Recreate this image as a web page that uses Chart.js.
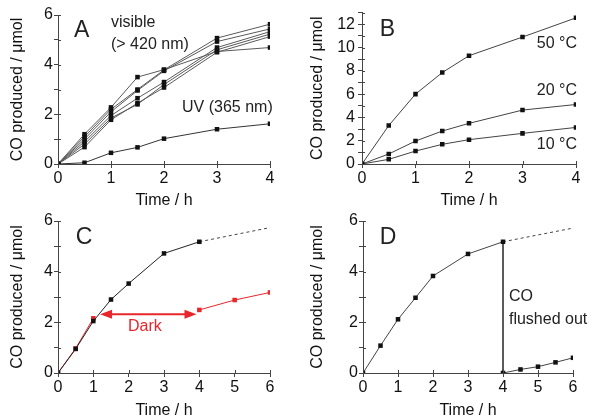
<!DOCTYPE html>
<html>
<head>
<meta charset="utf-8">
<script src="https://cdn.jsdelivr.net/npm/chart.js@4.4.0/dist/chart.umd.min.js"></script>
<style>
body { margin: 0; background: #fff; }
#wrap { width: 600px; height: 420px; display: grid; grid-template-columns: 300px 300px; grid-template-rows: 210px 210px; }
canvas { display: block; }
</style>
</head>
<body>
<div id="wrap">
	<canvas id="cA" width="300" height="210"></canvas>
	<canvas id="cB" width="300" height="210"></canvas>
	<canvas id="cC" width="300" height="210"></canvas>
	<canvas id="cD" width="300" height="210"></canvas>
</div>
<script>
// panel A : visible vs UV
const timeA = [0, 0.5, 1, 1.5, 2, 3, 4];
const visA1 = [0, 1.2, 2.28, 3.5, 3.8, 4.53, 4.69];
const visA2 = [0, 1.1, 2.2, 3.0, 3.79, 5.07, 5.63];
const visA3 = [0, 1.0, 2.1, 2.96, 3.75, 4.93, 5.44];
const visA4 = [0, 0.9, 1.95, 2.65, 3.3, 4.69, 5.33];
const visA5 = [0, 0.8, 1.85, 2.4, 3.2, 4.6, 5.23];
const visA6 = [0, 0.68, 1.78, 2.45, 3.08, 4.5, 5.13];
const uvA = [0, 0.05, 0.45, 0.67, 1.02, 1.4, 1.62];

// panel B : temperature
const timeB = [0, 0.5, 1, 1.5, 2, 3, 4];
const temp50 = [0, 3.3, 6.0, 7.85, 9.3, 10.9, 12.55];
const temp20 = [0, 0.86, 1.97, 2.83, 3.49, 4.63, 5.11];
const temp10 = [0, 0.4, 1.11, 1.69, 2.09, 2.63, 3.14];

// panel C : light / dark
const timeC = [0, 0.5, 1, 1.5, 2, 3, 4];
const lightC = [0, 0.95, 2.05, 2.9, 3.53, 4.72, 5.18];
const timeDark = [0, 0.5, 1, 2.5, 4, 5, 6];
const darkC = [0, 0.97, 2.16, null, 2.49, 2.88, 3.18];
const timeExt = [4, 6];
const extC = [5.18, 5.74];

// panel D : flushed
const timeD = [0, 0.5, 1, 1.5, 2, 3, 4, 4, 4.5, 5, 5.5, 6];
const flushD = [0, 1.08, 2.12, 2.97, 3.83, 4.7, 5.18, 0, 0.14, 0.25, 0.42, 0.6];
const extD = [5.18, 5.72];

const fam = '"Liberation Sans", Arial, sans-serif';
const red = '#e8262b';

function toXY(xs, ys) {
	return xs.map((x, i) => ({ x: x, y: ys[i] }));
}

function line(xs, ys, color, pt, opts) {
	return Object.assign({
		data: toXY(xs, ys),
		borderColor: color,
		backgroundColor: pt,
		pointBackgroundColor: pt,
		borderWidth: 1,
		pointStyle: 'rect',
		pointRadius: 3.2,
		pointBorderWidth: 0,
		tension: 0,
		spanGaps: false
	}, opts || {});
}

// inner half of the tick marks, text notes and the "Dark" arrow
const notes = {
	id: 'notes',
	afterDatasetsDraw(chart, args, o) {
		const ctx = chart.ctx;
		const xs = chart.scales.x, ys = chart.scales.y;
		ctx.save();
		ctx.strokeStyle = '#444';
		ctx.lineWidth = 1;
		ctx.beginPath();
		xs.ticks.forEach(t => {
			let px = Math.round(xs.getPixelForValue(t.value)) + 0.5;
			ctx.moveTo(px, ys.bottom);
			ctx.lineTo(px, ys.bottom - 3);
		});
		ys.ticks.forEach(t => {
			let py = Math.round(ys.getPixelForValue(t.value)) + 0.5;
			ctx.moveTo(xs.left, py);
			ctx.lineTo(xs.left + 3, py);
		});
		ctx.stroke();
		(o.items || []).forEach(it => {
			ctx.font = (it.size || 16) + 'px ' + fam;
			ctx.fillStyle = it.color || '#222';
			ctx.textAlign = it.align || 'left';
			ctx.textBaseline = 'middle';
			ctx.fillText(it.text, xs.getPixelForValue(it.x), ys.getPixelForValue(it.y));
		});
		if (o.arrow) {
			let a = o.arrow;
			let x1 = xs.getPixelForValue(a.x1), x2 = xs.getPixelForValue(a.x2), y = ys.getPixelForValue(a.y);
			ctx.strokeStyle = red;
			ctx.fillStyle = red;
			ctx.lineWidth = 2;
			ctx.beginPath();
			ctx.moveTo(x1 + 8, y);
			ctx.lineTo(x2 - 8, y);
			ctx.stroke();
			[[x1, 1], [x2, -1]].forEach(p => {
				ctx.beginPath();
				ctx.moveTo(p[0], y);
				ctx.lineTo(p[0] + p[1] * 12, y - 4.5);
				ctx.lineTo(p[0] + p[1] * 12, y + 4.5);
				ctx.closePath();
				ctx.fill();
			});
		}
		ctx.restore();
	}
};

function makeChart(id, datasets, c) {
	const font = { family: fam, size: 16 };
	return new Chart(document.getElementById(id), {
		type: 'line',
		data: { datasets: datasets },
		options: {
			responsive: false,
			animation: false,
			layout: { padding: { top: c.top, right: c.right, left: 0, bottom: 0 } },
			plugins: {
				legend: { display: false },
				tooltip: { enabled: false },
				notes: { items: c.items, arrow: c.arrow }
			},
			scales: {
				x: {
					type: 'linear', min: 0, max: c.xMax,
					afterFit: (s) => { s.height = c.xh; },
					ticks: { stepSize: 1, font: font, color: '#111', padding: 1, maxRotation: 0, autoSkip: false },
					grid: { drawOnChartArea: false, tickLength: 4, color: '#444' },
					border: { color: '#444' },
					title: { display: true, text: 'Time / h', font: font, color: '#111', padding: { top: 0, bottom: 0 } }
				},
				y: {
					min: 0, max: c.yMax,
					afterFit: (s) => { s.width = c.left; },
					ticks: {
						stepSize: 1, font: font, color: '#111', padding: c.yPad || 1, autoSkip: false,
						callback: (v) => (v % 2 === 0 ? v : '')
					},
					grid: { drawOnChartArea: false, tickLength: 4, color: '#444' },
					border: { color: '#444' },
					title: { display: true, text: 'CO produced / μmol', font: font, color: '#111', padding: { top: 8, bottom: 0 } }
				}
			}
		},
		plugins: [notes]
	});
}

const gray = '#5a5a5a';
makeChart('cA', [
	line(timeA, visA1, gray, '#111'), line(timeA, visA2, gray, '#111'), line(timeA, visA3, gray, '#111'),
	line(timeA, visA4, gray, '#111'), line(timeA, visA5, gray, '#111'), line(timeA, visA6, gray, '#111'),
	line(timeA, uvA, '#333', '#111')
], {
	xMax: 4, yMax: 6, left: 58, right: 30, top: 15, xh: 46,
	items: [
		{ text: 'A', x: 0.3, y: 5.36, size: 23 },
		{ text: 'visible', x: 1.0, y: 5.69 },
		{ text: '(> 420 nm)', x: 1.0, y: 4.8 },
		{ text: 'UV (365 nm)', x: 2.34, y: 2.26 }
	]
});

makeChart('cB', [
	line(timeB, temp50, '#444', '#111'), line(timeB, temp20, '#444', '#111'), line(timeB, temp10, '#444', '#111')
], {
	xMax: 4, yMax: 13, left: 62, right: 24, top: 12, xh: 46, yPad: 3,
	items: [
		{ text: 'B', x: 0.33, y: 11.5, size: 23 },
		{ text: '50 °C', x: 4.02, y: 10.37, align: 'right' },
		{ text: '20 °C', x: 4.02, y: 6.34, align: 'right' },
		{ text: '10 °C', x: 4.02, y: 1.63, align: 'right' }
	]
});

makeChart('cC', [
	line(timeC, lightC, '#222', '#111'),
	line(timeDark, darkC, red, red),
	line(timeExt, extC, '#444', '#444', { borderDash: [3, 3], pointRadius: 0 })
], {
	xMax: 6, yMax: 6, left: 58, right: 30, top: 11, xh: 47,
	items: [
		{ text: 'C', x: 0.5, y: 5.33, size: 23 },
		{ text: 'Dark', x: 2.46, y: 1.82, align: 'center', color: red }
	],
	arrow: { x1: 1.19, x2: 3.92, y: 2.32 }
});

makeChart('cD', [
	line(timeD, flushD, '#444', '#111'),
	line(timeExt, extD, '#444', '#444', { borderDash: [3, 3], pointRadius: 0 })
], {
	xMax: 6, yMax: 6, left: 63, right: 27, top: 11, xh: 47,
	items: [
		{ text: 'D', x: 0.48, y: 5.33, size: 23 },
		{ text: 'CO', x: 4.17, y: 3.0 },
		{ text: 'flushed out', x: 4.17, y: 2.09 }
	]
});
</script>
</body>
</html>
